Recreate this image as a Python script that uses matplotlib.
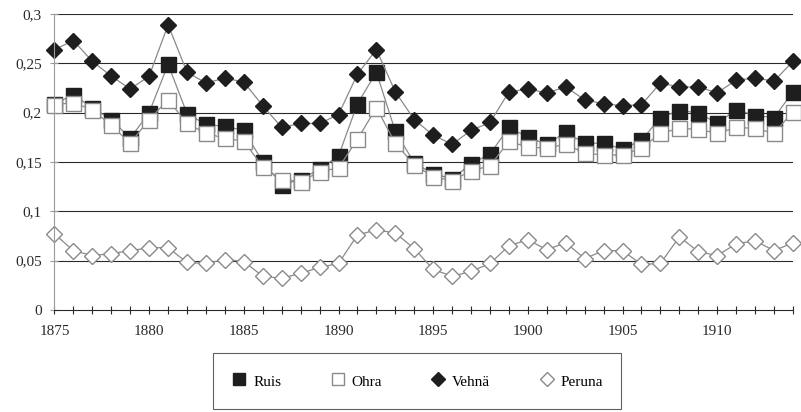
import matplotlib
matplotlib.use("Agg")
import matplotlib.pyplot as plt
from matplotlib.lines import Line2D

plt.rcParams['font.family'] = ['Liberation Serif', 'DejaVu Serif']

years = list(range(1875, 1915))

ruis = [0.209, 0.218, 0.205, 0.193, 0.174, 0.200, 0.249, 0.199, 0.188, 0.186,
        0.182, 0.150, 0.127, 0.132, 0.143, 0.156, 0.209, 0.241, 0.181, 0.149,
        0.138, 0.133, 0.148, 0.158, 0.185, 0.175, 0.168, 0.180, 0.169, 0.169,
        0.163, 0.172, 0.195, 0.202, 0.200, 0.189, 0.203, 0.197, 0.195, 0.221]

ohra = [0.208, 0.210, 0.203, 0.187, 0.169, 0.193, 0.213, 0.189, 0.179, 0.174,
        0.171, 0.145, 0.132, 0.130, 0.140, 0.144, 0.173, 0.205, 0.169, 0.147,
        0.135, 0.131, 0.141, 0.146, 0.171, 0.165, 0.164, 0.168, 0.159, 0.157,
        0.157, 0.164, 0.179, 0.184, 0.183, 0.179, 0.185, 0.184, 0.179, 0.201]

vehna = [0.264, 0.273, 0.252, 0.237, 0.224, 0.237, 0.289, 0.241, 0.230, 0.235,
         0.231, 0.207, 0.185, 0.189, 0.189, 0.198, 0.239, 0.264, 0.221, 0.193,
         0.177, 0.168, 0.182, 0.190, 0.221, 0.224, 0.220, 0.226, 0.213, 0.209,
         0.207, 0.208, 0.230, 0.226, 0.226, 0.220, 0.233, 0.235, 0.232, 0.252]

peruna = [0.077, 0.060, 0.055, 0.057, 0.060, 0.063, 0.063, 0.048, 0.047, 0.051,
          0.049, 0.034, 0.032, 0.037, 0.043, 0.047, 0.076, 0.081, 0.078, 0.062,
          0.041, 0.034, 0.039, 0.047, 0.065, 0.071, 0.061, 0.068, 0.052, 0.060,
          0.060, 0.046, 0.047, 0.074, 0.059, 0.055, 0.067, 0.070, 0.060, 0.068]

labels = ['Ruis', 'Ohra', 'Vehnä', 'Peruna']
yticks = [0, 0.05, 0.1, 0.15, 0.2, 0.25, 0.3]
ytick_labels = ['0', '0,05', '0,1', '0,15', '0,2', '0,25', '0,3']

fig = plt.figure(figsize=(8.01, 4.12), dpi=100)
ax = fig.add_axes([0.068, 0.248, 0.922, 0.718])

line_kw = dict(color='#8a8a8a', lw=0.9, clip_on=False)
ax.plot(years, ruis, marker='s', ms=10.8, mfc='#1e1e1e', mec='#1e1e1e', **line_kw)
ax.plot(years, ohra, marker='s', ms=10.8, mfc='white', mec='#8a8a8a', mew=1.0, **line_kw)
ax.plot(years, vehna, marker='D', ms=8.2, mfc='#1e1e1e', mec='#1e1e1e', **line_kw)
ax.plot(years, peruna, marker='D', ms=8.2, mfc='white', mec='#8a8a8a', mew=1.0, **line_kw)

ax.set_xlim(1875, 1914)
ax.set_ylim(0, 0.3)

# gridlines at each y step
for yv in yticks[1:]:
    ax.axhline(yv, color='#2a2a2a', lw=0.8, zorder=0)

ax.set_yticks(yticks)
ax.set_yticklabels(ytick_labels)
ax.set_xticks(years)
ax.set_xticklabels([str(y) if y % 5 == 0 else '' for y in years])

for side in ['top', 'right']:
    ax.spines[side].set_visible(False)
ax.spines['left'].set_color('#9a9a9a')
ax.spines['left'].set_linewidth(0.8)
ax.spines['bottom'].set_color('#2a2a2a')
ax.spines['bottom'].set_linewidth(0.8)

ax.tick_params(axis='x', direction='inout', length=6, width=0.8, colors='#2a2a2a',
               labelsize=11, pad=8)
ax.tick_params(axis='y', direction='inout', length=6, width=0.8, colors='#9a9a9a',
               labelcolor='#2a2a2a', labelsize=11, pad=6)

handles = [
    Line2D([], [], ls='none', marker='s', ms=9, mfc='#1e1e1e', mec='#1e1e1e'),
    Line2D([], [], ls='none', marker='s', ms=9, mfc='white', mec='#8a8a8a'),
    Line2D([], [], ls='none', marker='D', ms=7, mfc='#1e1e1e', mec='#1e1e1e'),
    Line2D([], [], ls='none', marker='D', ms=7, mfc='white', mec='#8a8a8a'),
]
leg = fig.legend(handles, labels, loc='center', bbox_to_anchor=(0.521, 0.075),
                 ncol=4, frameon=True, fancybox=False, fontsize=11,
                 handlelength=1.0, handleheight=1.6, handletextpad=0.4,
                 columnspacing=3.2, borderpad=1.2)
leg.get_frame().set_edgecolor('#3a3a3a')
leg.get_frame().set_linewidth(0.8)

fig.savefig('out.png', dpi=100)
